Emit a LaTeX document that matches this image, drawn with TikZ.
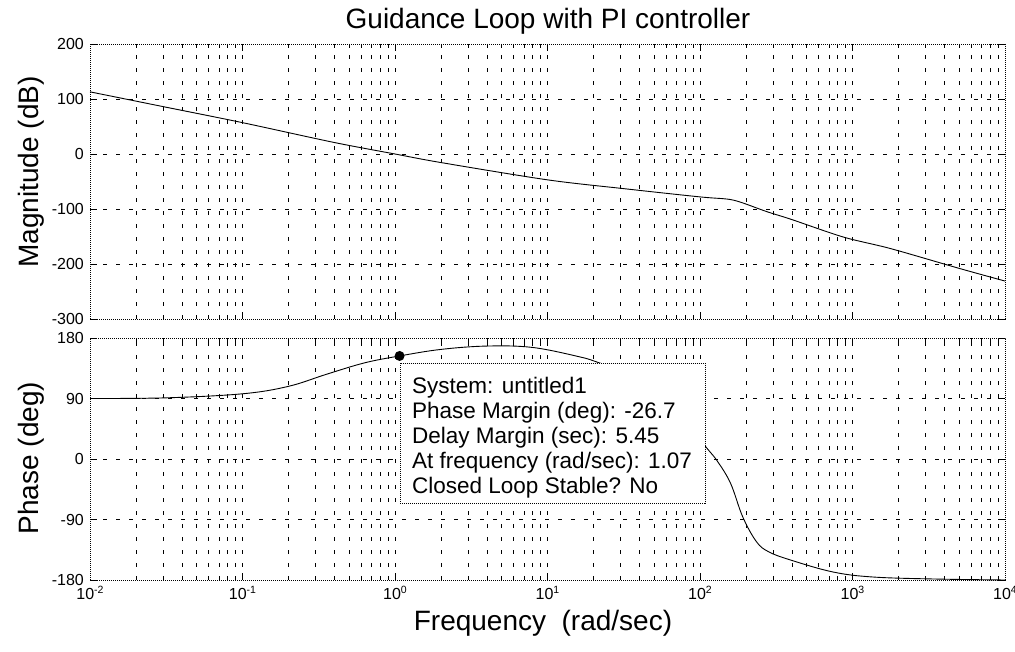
\documentclass[tikz,border=0pt]{standalone}
\usepackage{fontspec}
\setmainfont{Liberation Sans}
\usetikzlibrary{positioning}

% decade labels for the log axis
\newcommand{\decade}[1]{10\raisebox{6.5pt}{\fontsize{10.5}{11}\selectfont #1}}

\begin{document}
\begin{tikzpicture}[
    x=1pt, y=1pt,
    gridline/.style={black, line width=0.5pt, dash pattern=on 4pt off 9pt},
    frame/.style={black, line width=0.6pt, dash pattern=on 1pt off 1pt},
    tickmark/.style={black, line width=0.5pt},
    curve/.style={black, line width=0.9pt},
    ticklbl/.style={font=\fontsize{16}{16}\selectfont, inner sep=0pt},
    axlbl/.style={font=\fontsize{28}{30}\selectfont, inner sep=0pt},
    tipbox/.style={draw=black, fill=white, line width=0.6pt,
                   dash pattern=on 1pt off 1pt, inner sep=0pt},
    tiptext/.style={font=\fontsize{22.5}{25}\selectfont, align=left, inner sep=0pt},
]
\useasboundingbox (0,0) rectangle (1015,651);

% --- Title and axis labels ---
\node[axlbl, anchor=base] (title) at (548,622) {Guidance Loop with PI controller};
\node[axlbl, anchor=base] (xlabel) at (543,21) {Frequency\ \ (rad/sec)};
\node[axlbl, anchor=base, rotate=90] (maglabel) at (38,479) {Magnitude (dB)};
\node[axlbl, anchor=base, rotate=90] (phaselabel) at (38,193) {Phase (deg)};

% --- Magnitude panel (x in decades, y in dB) ---
\begin{scope}[shift={(395pt,497pt)}, x=152.5pt, y=0.55pt]
  % grid
  \foreach \d in {-2,...,3} {
    \foreach \k in {2,...,9}
      \draw[gridline] ({\d+log10(\k)},-300) -- ({\d+log10(\k)},200);
  }
  \foreach \d in {-1,...,3}
    \draw[gridline] (\d,-300) -- (\d,200);
  \foreach \m in {-200,-100,0,100}
    \draw[gridline] (-2,\m) -- (4,\m);
  % ticks
  \foreach \d in {-2,...,3} {
    \foreach \k in {2,...,9} {
      \draw[tickmark] ({\d+log10(\k)},-300) -- ++(0,4pt);
      \draw[tickmark] ({\d+log10(\k)},200) -- ++(0,-4pt);
    }
  }
  \foreach \d in {-1,...,3} {
    \draw[tickmark] (\d,-300) -- ++(0,7pt);
    \draw[tickmark] (\d,200) -- ++(0,-7pt);
  }
  \foreach \m in {-300,-200,...,200} {
    \draw[tickmark] (-2,\m) -- ++(7pt,0);
    \draw[tickmark] (4,\m) -- ++(-7pt,0);
    \node[ticklbl, anchor=east, xshift=-6pt] (mag\m) at (-2,\m) {\m};
  }
  \draw[frame] (-2,-300) rectangle (4,200);
  % magnitude curve
  \draw[curve] plot[smooth, tension=0.5] coordinates {
    (-2,113) (-1.5,85) (-1,57) (-0.4,21) (0,0) (0.3,-15.5) (1,-47)
    (1.5,-63) (2,-78) (2.18,-82) (2.27,-88) (2.44,-105) (2.6,-119)
    (2.94,-151) (3.25,-172) (3.7,-208) (4,-231)};
\end{scope}

% --- Phase panel (x in decades, y in degrees) ---
\begin{scope}[shift={(395pt,192pt)}, x=152.5pt, y=0.6722pt]
  % grid
  \foreach \d in {-2,...,3} {
    \foreach \k in {2,...,9}
      \draw[gridline] ({\d+log10(\k)},-180) -- ({\d+log10(\k)},180);
  }
  \foreach \d in {-1,...,3}
    \draw[gridline] (\d,-180) -- (\d,180);
  \foreach \p in {-90,0,90}
    \draw[gridline] (-2,\p) -- (4,\p);
  % ticks
  \foreach \d in {-2,...,3} {
    \foreach \k in {2,...,9} {
      \draw[tickmark] ({\d+log10(\k)},-180) -- ++(0,4pt);
      \draw[tickmark] ({\d+log10(\k)},180) -- ++(0,-4pt);
    }
  }
  \foreach \d in {-1,...,3} {
    \draw[tickmark] (\d,-180) -- ++(0,7pt);
    \draw[tickmark] (\d,180) -- ++(0,-7pt);
  }
  \foreach \p in {-180,-90,0,90,180} {
    \draw[tickmark] (-2,\p) -- ++(7pt,0);
    \draw[tickmark] (4,\p) -- ++(-7pt,0);
    \node[ticklbl, anchor=east, xshift=-6pt] (ph\p) at (-2,\p) {\p};
  }
  \foreach \d in {-2,...,4}
    \node[ticklbl, anchor=base, yshift=-20pt] (dec\d) at (\d,-180) {\decade{\d}};
  \draw[frame] (-2,-180) rectangle (4,180);
  % phase curve
  \draw[curve] plot[smooth, tension=0.6] coordinates {
    (-2,90) (-1.5,91) (-1,97) (-0.7,108) (-0.45,126) (-0.2,143) (0.03,153.3)
    (0.3,163) (0.6,168) (0.9,166) (1.21,152) (1.34,143)
    (1.6,122) (1.8,95) (1.93,62) (2.02,24) (2.11,-2) (2.2,-36) (2.28,-86)
    (2.37,-123) (2.45,-138) (2.59,-150) (2.87,-168) (3.13,-175.5)
    (3.53,-178.5) (4,-180)};
  \coordinate (pm) at (0.03,153.3);
\end{scope}

% --- Data tip ---
\node[tipbox, anchor=north west, minimum width=305pt, minimum height=140pt]
    (tip) at (400,288) {};
\node[tiptext, anchor=north west] (tiptxt) at ([xshift=12pt, yshift=-13.5pt]tip.north west)
    {System: untitled1\\
     Phase Margin (deg): -26.7\\
     Delay Margin (sec): 5.45\\
     At frequency (rad/sec): 1.07\\
     Closed Loop Stable? No};
\node[circle, fill=black, inner sep=0pt, minimum size=10pt] (marker) at (pm) {};

\end{tikzpicture}
\end{document}
